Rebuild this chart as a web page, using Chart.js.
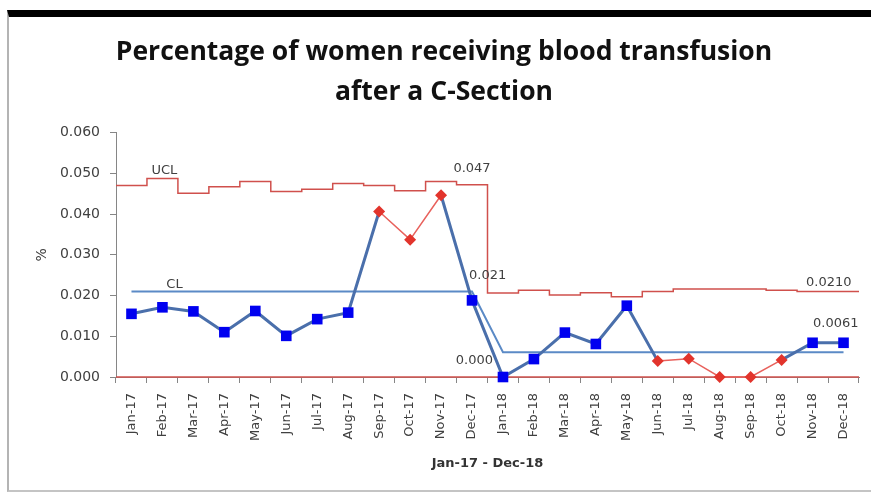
<!DOCTYPE html>
<html><head><meta charset="utf-8">
<script src="https://cdn.jsdelivr.net/npm/chart.js@4/dist/chart.umd.min.js"></script>
<style>
html,body{margin:0;padding:0;background:#fff;}
#wrap{position:relative;width:871px;height:494px;overflow:hidden;background:#fff;}
#frame{position:absolute;left:7px;top:10px;width:864px;height:482px;box-sizing:border-box;border-top:7px solid #000;border-left:2px solid #b4b4b4;border-bottom:2px solid #c4c4c4;}
canvas{position:absolute;left:0;top:0;}
</style></head><body>
<div id="wrap"><div id="frame"></div><canvas id="c" width="871" height="494"></canvas></div>
<script>
// ---- data ----
const months = ['Jan-17','Feb-17','Mar-17','Apr-17','May-17','Jun-17','Jul-17','Aug-17','Sep-17','Oct-17','Nov-17','Dec-17',
                'Jan-18','Feb-18','Mar-18','Apr-18','May-18','Jun-18','Jul-18','Aug-18','Sep-18','Oct-18','Nov-18','Dec-18'];
const rates = [0.0155,0.0171,0.0161,0.0110,0.0162,0.0101,0.0142,0.0158,0.0406,0.0337,0.0446,0.0188,
               0.0000,0.0044,0.0109,0.0081,0.0175,0.0039,0.0045,0.0000,0.0000,0.0042,0.0084,0.0084];
const signal = [false,false,false,false,false,false,false,false,true,true,true,false,
                false,false,false,false,false,true,true,true,true,true,false,false];
const centerLine = [0.021,0.021,0.021,0.021,0.021,0.021,0.021,0.021,0.021,0.021,0.021,0.021,
                    0.0061,0.0061,0.0061,0.0061,0.0061,0.0061,0.0061,0.0061,0.0061,0.0061,0.0061,0.0061];
const upperLimit = [0.0470,0.0487,0.0451,0.0467,0.0480,0.0455,0.0461,0.0475,0.0470,0.0457,0.0480,0.0472,
                    0.0206,0.0213,0.0201,0.0207,0.0197,0.0210,0.0216,0.0216,0.0216,0.0213,0.0210,0.0210];
const lowerLimit = [0,0,0,0,0,0,0,0,0,0,0,0,0,0,0,0,0,0,0,0,0,0,0,0];
const noteTexts = ['UCL','CL','0.047','0.021','0.000','0.0210','0.0061'];
const titleLines = ['Percentage of women receiving blood transfusion','after a C-Section'];
const xTitle = 'Jan-17 - Dec-18';
const yTitle = '%';

// step lines on a hidden linear axis so they span full category widths
function stepData(arr){
  const d = arr.map((v,i)=>({x:i-0.5,y:v}));
  d.push({x:arr.length-0.5,y:arr[arr.length-1]});
  return d;
}

const RED_LINE = '#d0504c';
const BLUE_LINE = '#4a6fab';
const CL_COLOR = '#5b8ac6';
const TXT = '#404040';
const FONT = 'DejaVu Sans';

const notesPlugin = {
  id:'notes',
  afterDatasetsDraw(chart){
    const ctx = chart.ctx, xs = chart.scales.x, ys = chart.scales.y;
    const px = i => xs.getPixelForValue(i);
    const py = v => ys.getPixelForValue(v);
    const n = months.length-1;
    const place = [
      {x:px(1)+2, y:py(upperLimit[1])-8, a:'center'},
      {x:px(0)+43, y:py(centerLine[0])-7, a:'center'},
      {x:px(11), y:py(upperLimit[11])-16, a:'center'},
      {x:px(11)-3, y:py(centerLine[11])-16, a:'left'},
      {x:px(12)-10, y:py(0)-16, a:'right'},
      {x:px(n)+8, y:py(upperLimit[n])-9, a:'right'},
      {x:px(n)+15, y:py(centerLine[n])-29, a:'right'}
    ];
    ctx.save();
    ctx.font = '13px "'+FONT+'"';
    ctx.fillStyle = TXT;
    ctx.textBaseline = 'middle';
    noteTexts.forEach((t,k)=>{ ctx.textAlign = place[k].a; ctx.fillText(t, place[k].x, place[k].y); });
    ctx.restore();
  }
};

new Chart(document.getElementById('c'), {
  type:'line',
  data:{
    labels: months,
    datasets:[
      {
        label:'Rate', data: rates, order:0, clip:false,
        borderColor: BLUE_LINE, borderWidth:3,
        pointStyle: signal.map(s=> s ? 'rectRot' : 'rect'),
        pointRadius: signal.map(s=> s ? 6 : 7.5),
        pointBackgroundColor: signal.map(s=> s ? '#e2342c' : '#0000f0'),
        pointBorderColor: signal.map(s=> s ? '#e2342c' : '#0000f0'),
        pointBorderWidth: 0,
        segment:{
          borderColor: c => (signal[c.p0DataIndex] && signal[c.p1DataIndex]) ? '#e8615c' : BLUE_LINE,
          borderWidth: c => (signal[c.p0DataIndex] && signal[c.p1DataIndex]) ? 1.5 : 3
        },
        tension:0
      },
      {
        label:'CL', data: centerLine, order:1, borderColor: CL_COLOR, borderWidth:2,
        pointRadius:0, tension:0
      },
      {
        label:'UCL', data: stepData(upperLimit), xAxisID:'xl', order:2, stepped:'before',
        borderColor: RED_LINE, borderWidth:1.5, pointRadius:0, clip:false
      },
      {
        label:'LCL', data: stepData(lowerLimit), xAxisID:'xl', order:2, stepped:'before',
        borderColor: RED_LINE, borderWidth:1.5, pointRadius:0, clip:false
      }
    ]
  },
  options:{
    responsive:false, animation:false,
    layout:{padding:{left:29, right:12, top:0, bottom:0}},
    plugins:{
      legend:{display:false}, tooltip:{enabled:false},
      title:{display:true, text:titleLines, color:'#111',
        font:{family:'Open Sans', size:26.5, weight:'bold', lineHeight:1.5},
        padding:{top:33, bottom:20}}
    },
    scales:{
      x:{
        type:'category', offset:true,
        grid:{offset:true, drawOnChartArea:false, drawTicks:true, tickLength:6, color:'#868686'},
        border:{display:true, color:'#868686'},
        ticks:{minRotation:90, maxRotation:90, autoSkip:false, padding:10, color:TXT, font:{family:FONT, size:13}},
        title:{display:true, text:xTitle, color:'#333', font:{family:FONT, size:13, weight:'bold'}, padding:{top:0,bottom:23}},
        afterFit(s){ s.height = 117; }
      },
      xl:{type:'linear', display:false, min:-0.5, max:months.length-0.5},
      y:{
        min:0, max:0.06,
        grid:{drawOnChartArea:false, drawTicks:true, tickLength:6, color:'#868686'},
        border:{display:true, color:'#868686'},
        ticks:{stepSize:0.01, padding:10, color:TXT, font:{family:FONT, size:14}, callback:v=>v.toFixed(3)},
        title:{display:true, text:yTitle, color:TXT, font:{family:FONT, size:14}, padding:{top:5,bottom:0}},
        afterFit(s){ s.width = 87; }
      }
    }
  },
  plugins:[notesPlugin]
});
</script>
</body></html>
